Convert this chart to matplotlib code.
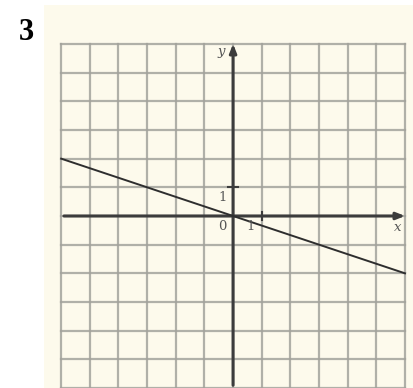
import matplotlib.pyplot as plt
import numpy as np

# grid range (units)
grid_ticks = np.arange(-6, 7, 1)

# the line drawn on the grid
line_x = [-6, 6]
line_y = [2, -2]

# tick marks on the axes
tick_x = [1]
tick_y = [1]

fig = plt.figure(figsize=(4.13, 3.88), dpi=100)
fig.patch.set_facecolor("white")

ax = fig.add_axes([44 / 413, 0, 1 - 44 / 413, 383 / 388])
ax.set_facecolor("#fdfaec")
ax.set_xlim(-6.6, 6.28)
ax.set_ylim(-6.0, 7.36)
for s in ax.spines.values():
    s.set_visible(False)
ax.set_xticks([])
ax.set_yticks([])

# grid
for g in grid_ticks:
    ax.plot([g, g], [-6, 6], color="#a3a39c", lw=1.6, alpha=0.85, zorder=1)
    ax.plot([-6, 6], [g, g], color="#a3a39c", lw=1.6, alpha=0.85, zorder=1)

# axes with arrows
ax.annotate("", xy=(6.1, 0), xytext=(-6, 0),
            arrowprops=dict(arrowstyle="-|>,head_length=0.5,head_width=0.2",
                            color="#3c3c3c", lw=2.2), zorder=3)
ax.annotate("", xy=(0, 6.1), xytext=(0, -6),
            arrowprops=dict(arrowstyle="-|>,head_length=0.5,head_width=0.2",
                            color="#3c3c3c", lw=2.2), zorder=3)

for t in tick_x:
    ax.plot([t, t], [-0.15, 0.15], color="#3c3c3c", lw=1.5, zorder=3)
for t in tick_y:
    ax.plot([-0.17, 0.17], [t, t], color="#3c3c3c", lw=1.5, zorder=3)

# the line
ax.plot(line_x, line_y, color="#2e2e2e", lw=1.4, zorder=4)

lab = dict(family="DejaVu Serif", fontsize=9.5, color="#555555",
           ha="center", va="center", zorder=5)
ax.text(-0.36, 0.65, "1", **lab)
ax.text(-0.36, -0.38, "0", **lab)
ax.text(0.62, -0.38, "1", **lab)
ax.text(-0.4, 5.75, "y", style="italic", **lab)
ax.text(5.75, -0.4, "x", style="italic", **lab)

fig.text(26 / 413, 1 - 33 / 388, "3", family="Liberation Serif",
         fontweight="bold", fontsize=22, ha="center", va="center")

fig.savefig("out.png", dpi=100)
